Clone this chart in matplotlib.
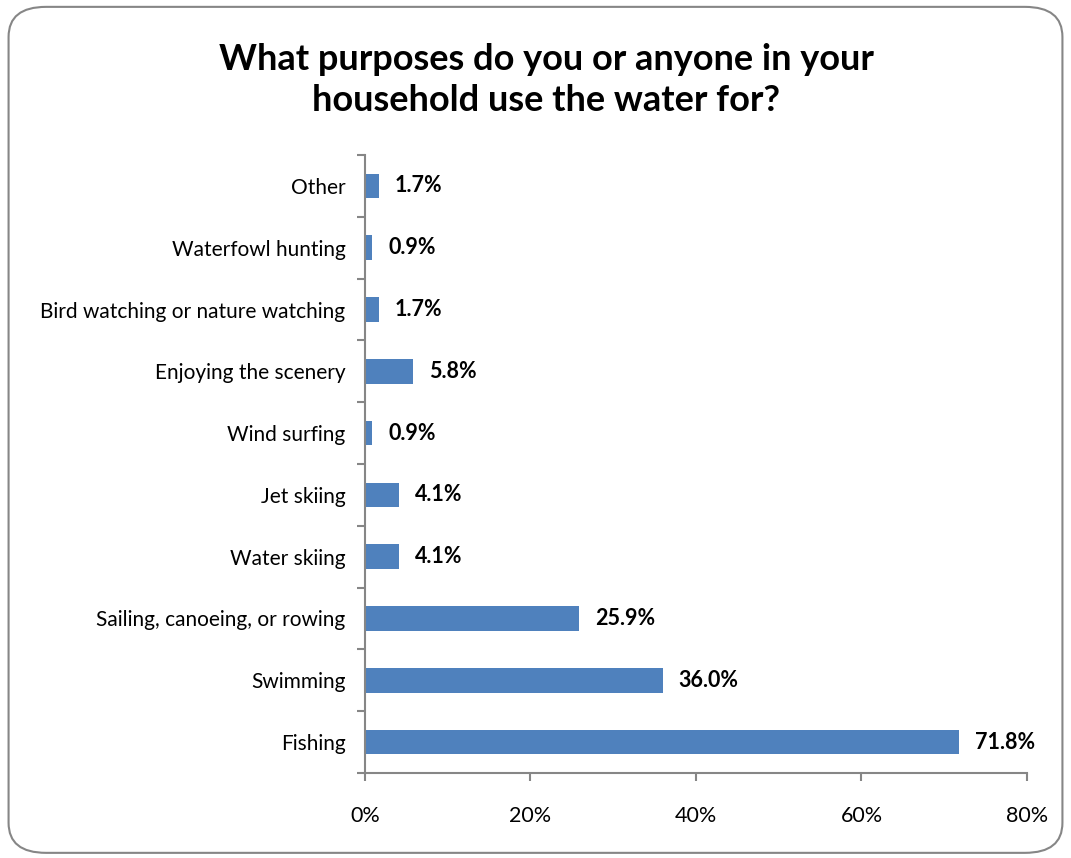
import numpy as np
import matplotlib.pyplot as plt
from matplotlib.patches import FancyBboxPatch
from matplotlib.ticker import FixedLocator, PercentFormatter

purposes = ["Fishing", "Swimming", "Sailing, canoeing, or rowing", "Water skiing",
            "Jet skiing", "Wind surfing", "Enjoying the scenery",
            "Bird watching or nature watching", "Waterfowl hunting", "Other"]
shares = [71.8, 36.0, 25.9, 4.1, 4.1, 0.9, 5.8, 1.7, 0.9, 1.7]
x_ticks = [0, 20, 40, 60, 80]

plt.rcParams['font.family'] = ['Lato', 'DejaVu Sans']
grey = '#868686'

fig = plt.figure(figsize=(10.71, 8.58), dpi=100)
fig.patches.append(FancyBboxPatch((0.008, 0.006), 0.984, 0.986,
                                  boxstyle="round,pad=0,rounding_size=0.035",
                                  transform=fig.transFigure, fill=False,
                                  edgecolor=grey, linewidth=1.5))

ax = fig.add_axes([0.3408, 0.0991, 0.6181, 0.7202])
y = np.arange(len(purposes))
ax.barh(y, shares, height=0.4, color='#4F81BD')

for yi, v in zip(y, shares):
    ax.text(v + 1.9, yi, f"{v:.1f}%", va='center', ha='left',
            fontsize=15.5, fontweight='bold')

ax.set_xlim(0, 80)
ax.set_ylim(-0.5, len(purposes) - 0.5)
ax.set_xticks(x_ticks)
ax.xaxis.set_major_formatter(PercentFormatter(decimals=0))
ax.set_yticks(y)
ax.set_yticklabels(purposes)
ax.yaxis.set_minor_locator(FixedLocator(np.arange(-0.5, len(purposes), 1)))

ax.tick_params(axis='y', which='major', length=0, pad=14, labelsize=15)
ax.tick_params(axis='y', which='minor', length=6, width=1.5, color=grey)
ax.tick_params(axis='x', length=6, width=1.5, color=grey, pad=18, labelsize=15.5)

for side in ['top', 'right']:
    ax.spines[side].set_visible(False)
for side in ['left', 'bottom']:
    ax.spines[side].set_color(grey)
    ax.spines[side].set_linewidth(1.5)

fig.text(0.51, 0.907, "What purposes do you or anyone in your\nhousehold use the water for?",
         ha='center', va='center', fontsize=26, fontweight='bold', linespacing=1.3)

fig.savefig("out.png", dpi=100)
